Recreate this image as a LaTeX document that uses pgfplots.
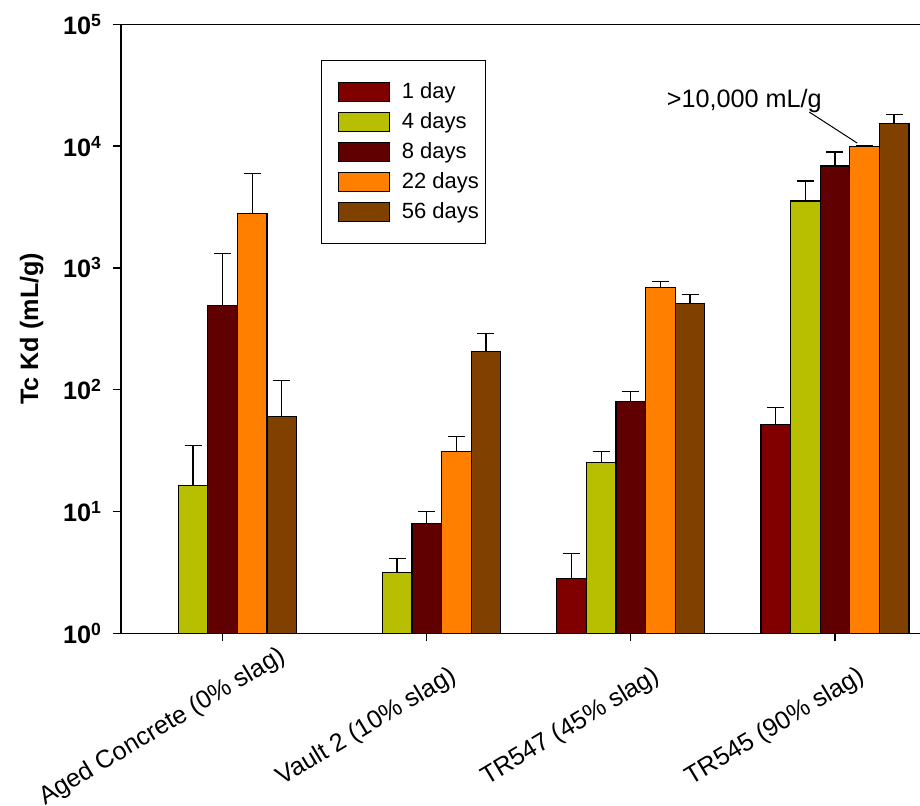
\documentclass[border=0pt]{standalone}
\usepackage{fontspec}
\setmainfont{Liberation Sans}
\usepackage{pgfplots}
\pgfplotsset{compat=1.18}

\definecolor{dayone}{HTML}{800000}
\definecolor{dayfour}{HTML}{B8BF00}
\definecolor{dayeight}{HTML}{600000}
\definecolor{daytwentytwo}{HTML}{FF8000}
\definecolor{dayfiftysix}{HTML}{804000}
\newcommand\fs{\fontsize{12.6}{15}\selectfont}
\newcommand\legfs{\fontsize{11}{13}\selectfont}
\newcommand\dec[1]{\textbf{10\raisebox{0.6ex}{\fontsize{8.8}{9}\selectfont\bfseries #1}}}

\begin{document}
\begin{tikzpicture}
\begin{axis}[
    name=ax,
    width=399.5pt, height=304.5pt, scale only axis,
    ymode=log, ymin=1, ymax=100000,
    xmin=0.502, xmax=4.417,
    axis x line*=bottom, axis y line*=left,
    axis line style={-, line width=0.65pt},
    ybar=0pt, bar width=14.8pt,
    xtick={1,2,3,4},
    xticklabels={Aged Concrete (0\% slag), Vault 2 (10\% slag), TR547 (45\% slag), TR545 (90\% slag)},
    ytick={1,10,100,1000,10000,100000},
    yticklabels={\dec{0},\dec{1},\dec{2},\dec{3},\dec{4},\dec{5}},
    yminorticks=false,
    tick align=outside, major tick length=4pt,
    tick style={black, line width=0.65pt},
    yticklabel style={font=\fs, xshift=-2.5pt},
    xticklabel style={font=\fs, xshift=-30pt, yshift=-43pt, rotate=31, anchor=center},
    ylabel={\textbf{Tc Kd (mL/g)}},
    ylabel shift=3pt,
    ylabel style={font=\fs, at={(ticklabel cs:0.5)}},
    legend style={at={(0.2503,0.9414)}, anchor=north west, draw=black, line width=0.6pt,
        font=\legfs, inner xsep=1pt, inner ysep=8.25pt, row sep=0pt,
        nodes={text height=8pt, text depth=2pt, inner sep=2.5pt}},
    legend cell align=left,
    legend image code/.code={\path (0pt,0pt) (36pt,0pt);
        \draw[#1, line width=0.6pt] (7.2pt,-4.75pt) rectangle (32.7pt,4.75pt);},
    error bars/y dir=plus, error bars/y explicit,
    error bars/error bar style={black, line width=0.65pt},
    error bars/error mark options={rotate=90, mark size=4.25pt, black, line width=0.65pt},
]
\addplot[fill=dayone, draw=black, line width=0.6pt] coordinates {
    (3,2.8) +- (0,1.7)
    (4,52) +- (0,19.7)
};
\addplot[fill=dayfour, draw=black, line width=0.6pt] coordinates {
    (1,16.4) +- (0,18.6)
    (2,3.17) +- (0,0.96)
    (3,25.3) +- (0,5.9)
    (4,3540) +- (0,1620)
};
\addplot[fill=dayeight, draw=black, line width=0.6pt] coordinates {
    (1,495) +- (0,823)
    (2,8.0) +- (0,2.0)
    (3,80.3) +- (0,16.7)
    (4,6860) +- (0,2100)
};
\addplot[fill=daytwentytwo, draw=black, line width=0.6pt] coordinates {
    (1,2800) +- (0,3180)
    (2,31.2) +- (0,10.2)
    (3,693) +- (0,83)
    (4,10000) +- (0,0)
};
\addplot[fill=dayfiftysix, draw=black, line width=0.6pt] coordinates {
    (1,60.5) +- (0,58.5)
    (2,207) +- (0,83)
    (3,512) +- (0,95)
    (4,15390) +- (0,2860)
};
\legend{1 day, 4 days, 8 days, 22 days, 56 days}
\node[font=\fs] at (axis cs:3.556,23440) {>10,000 mL/g};
\draw[line width=0.5pt] (axis cs:3.874,19050) -- (axis cs:4.109,10600);
\end{axis}
\draw[line width=0.65pt] (ax.north west) -- (ax.north east);
\pgfresetboundingbox
\path[use as bounding box] ([shift={(-60.5pt,-85.85pt)}]ax.south west) rectangle ([shift={(399.5pt,316.65pt)}]ax.south west);
\end{tikzpicture}
\end{document}
